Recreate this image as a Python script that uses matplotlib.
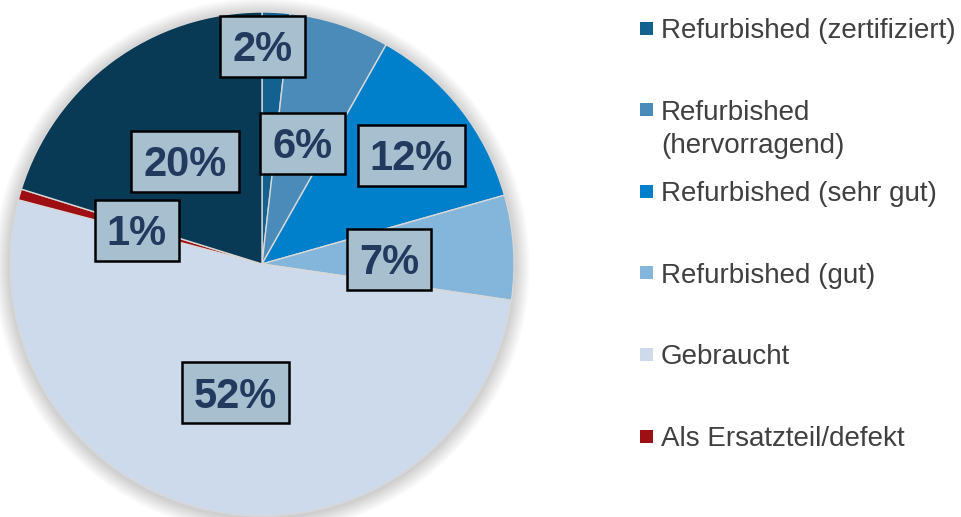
import matplotlib
matplotlib.use("Agg")
import matplotlib.pyplot as plt
from matplotlib.patches import Rectangle, Circle
import numpy as np

plt.rcParams['font.family'] = ['Liberation Sans', 'DejaVu Sans']

categories = ["Refurbished (zertifiziert)", "Refurbished\n(hervorragend)",
              "Refurbished (sehr gut)", "Refurbished (gut)", "Gebraucht",
              "Als Ersatzteil/defekt", "Neu"]
values = [1.8, 6.4, 12.4, 6.7, 51.8, 0.7, 20.2]
colors = ["#13618f", "#4b8bb9", "#007fcb", "#84b5da", "#cddaeb", "#9e0f13", "#093a55"]
legend_count = 6

W, H = 961, 517
fig = plt.figure(figsize=(W / 100, H / 100), dpi=100)
ax = fig.add_axes([0, 0, 1, 1])

cx, cy, R = 262, 253, 252

# soft shadow
for k in range(16):
    ax.add_patch(Circle((cx, cy - 2), R + 16 - k, color='black', alpha=0.012, lw=0, zorder=0))

explode = [0, 0, 0, 0.015, 0, 0, 0]
wedges, _ = ax.pie(values, colors=colors, startangle=90, counterclock=False,
                   center=(cx, cy), radius=R, explode=explode,
                   wedgeprops=dict(edgecolor="#d8d8d8", linewidth=1.0, zorder=1))
ax.set_xlim(0, W)
ax.set_ylim(0, H)
ax.set_aspect('equal')
ax.axis('off')

label_dist = [0.863, 0.506, 0.733, 0.505, 0.521, 0.514, 0.510]
label_shift = [3.1, -0.5, -2.0, -1.6, 0.0, 1.0, 0.4]
fs = 30
em = fs * 100 / 72
texts = []
for w, v, d, s in zip(wedges, values, label_dist, label_shift):
    ang = np.deg2rad((w.theta1 + w.theta2) / 2 + s)
    x = w.center[0] + d * R * np.cos(ang)
    y = w.center[1] + d * R * np.sin(ang)
    t = ax.text(x, y - 0.358 * em, f"{round(v)}%", fontsize=fs, fontweight='bold',
                color="#223a5e", ha='center', va='baseline', zorder=4)
    texts.append((t, x, y))

fig.canvas.draw()
for t, x, y in texts:
    bw = t.get_window_extent().width
    ax.add_patch(Rectangle((x - bw / 2 - 12, y - 30.5), bw + 24, 61, facecolor="#a8bfd0",
                           edgecolor="black", linewidth=1.8, zorder=3))

# legend
lfs = 20
lem = lfs * 100 / 72
for i in range(legend_count):
    yc = H - (28 + i * 81.6)
    ax.add_patch(Rectangle((640, yc - 6.5), 13, 13, facecolor=colors[i], edgecolor='none', zorder=2))
    for j, line in enumerate(categories[i].split("\n")):
        ax.text(661, yc - 0.358 * lem - j * 33, line, fontsize=lfs, color="#404040",
                ha='left', va='baseline', zorder=2)

fig.savefig("out.png", dpi=100)
